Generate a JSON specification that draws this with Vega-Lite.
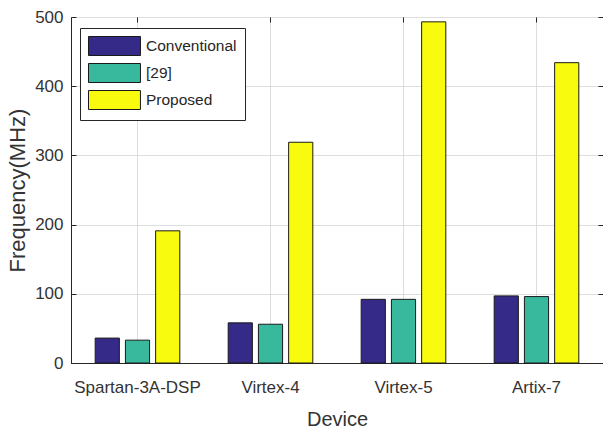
{
  "$schema": "https://vega.github.io/schema/vega-lite/v6.json",
  "autosize": {"type": "none"},
  "padding": {"left": 71, "top": 17, "right": 0, "bottom": 67},
  "width": 532,
  "height": 346,
  "background": "white",
  "config": {
    "font": "Liberation Sans",
    "view": {"stroke": "#262626", "strokeWidth": 1},
    "axis": {
      "labelFont": "Liberation Sans",
      "titleFont": "Liberation Sans",
      "labelColor": "#333333",
      "titleColor": "#333333",
      "domainColor": "#262626",
      "tickColor": "#262626",
      "gridColor": "#dedede",
      "gridWidth": 1
    }
  },
  "data": {
    "values": [
      {"Device": "Spartan-3A-DSP", "Series": "Conventional", "Frequency": 36},
      {"Device": "Spartan-3A-DSP", "Series": "[29]", "Frequency": 33},
      {"Device": "Spartan-3A-DSP", "Series": "Proposed", "Frequency": 191},
      {"Device": "Virtex-4", "Series": "Conventional", "Frequency": 58},
      {"Device": "Virtex-4", "Series": "[29]", "Frequency": 56},
      {"Device": "Virtex-4", "Series": "Proposed", "Frequency": 319},
      {"Device": "Virtex-5", "Series": "Conventional", "Frequency": 92},
      {"Device": "Virtex-5", "Series": "[29]", "Frequency": 92},
      {"Device": "Virtex-5", "Series": "Proposed", "Frequency": 493},
      {"Device": "Artix-7", "Series": "Conventional", "Frequency": 97},
      {"Device": "Artix-7", "Series": "[29]", "Frequency": 96},
      {"Device": "Artix-7", "Series": "Proposed", "Frequency": 434}
    ]
  },
  "layer": [
    {
      "mark": {"type": "bar", "stroke": "#1a1a1a", "strokeWidth": 1},
      "encoding": {
        "x": {
          "field": "Device", "type": "nominal",
          "sort": ["Spartan-3A-DSP", "Virtex-4", "Virtex-5", "Artix-7"],
          "scale": {"paddingInner": 0, "paddingOuter": 0},
          "axis": {
            "title": "Device", "titleFontSize": 20, "titleFontWeight": "normal",
            "titlePadding": 14,
            "labelFontSize": 17, "labelAngle": 0, "labelPadding": 21,
            "tickSize": -5, "bandPosition": 0.5, "grid": true
          }
        },
        "xOffset": {
          "field": "Series", "type": "nominal",
          "sort": ["Conventional", "[29]", "Proposed"],
          "scale": {"paddingInner": 0.2, "paddingOuter": 0.8}
        },
        "y": {
          "field": "Frequency", "type": "quantitative",
          "scale": {"domain": [0, 500], "nice": false},
          "axis": {
            "title": "Frequency(MHz)", "titleFontSize": 22, "titleFontWeight": "normal",
            "titlePadding": 5,
            "values": [0, 100, 200, 300, 400, 500],
            "labelFontSize": 17, "labelPadding": 13, "tickSize": -5, "grid": true
          }
        },
        "fill": {
          "field": "Series", "type": "nominal",
          "sort": ["Conventional", "[29]", "Proposed"],
          "scale": {"domain": ["Conventional", "[29]", "Proposed"], "range": ["#352a87", "#38b99e", "#f9fb0e"]},
          "legend": {
            "title": null,
            "orient": "none",
            "legendX": 9,
            "legendY": 11,
            "fillColor": "white",
            "strokeColor": "#262626",
            "padding": 8,
            "rowPadding": 3,
            "labelFontSize": 15.5,
            "labelFont": "Liberation Sans",
            "labelColor": "#262626",
            "labelOffset": 38,
            "symbolType": "M-1,-1H4.47V1H-1Z",
            "symbolSize": 361,
            "symbolStrokeColor": "#1a1a1a",
            "symbolStrokeWidth": 1,
            "symbolOpacity": 1
          }
        }
      }
    },
    {
      "mark": {"type": "bar", "opacity": 0},
      "encoding": {
        "x": {
          "field": "Device", "type": "nominal",
          "sort": ["Spartan-3A-DSP", "Virtex-4", "Virtex-5", "Artix-7"],
          "axis": {"orient": "top", "title": null, "labels": false, "domain": false, "grid": false, "tickSize": -5, "bandPosition": 0.5}
        },
        "y": {
          "field": "Frequency", "type": "quantitative",
          "axis": {"orient": "right", "title": null, "labels": false, "domain": false, "grid": false, "tickSize": -5, "values": [0, 100, 200, 300, 400, 500]}
        }
      }
    }
  ],
  "resolve": {"axis": {"x": "independent", "y": "independent"}}
}
